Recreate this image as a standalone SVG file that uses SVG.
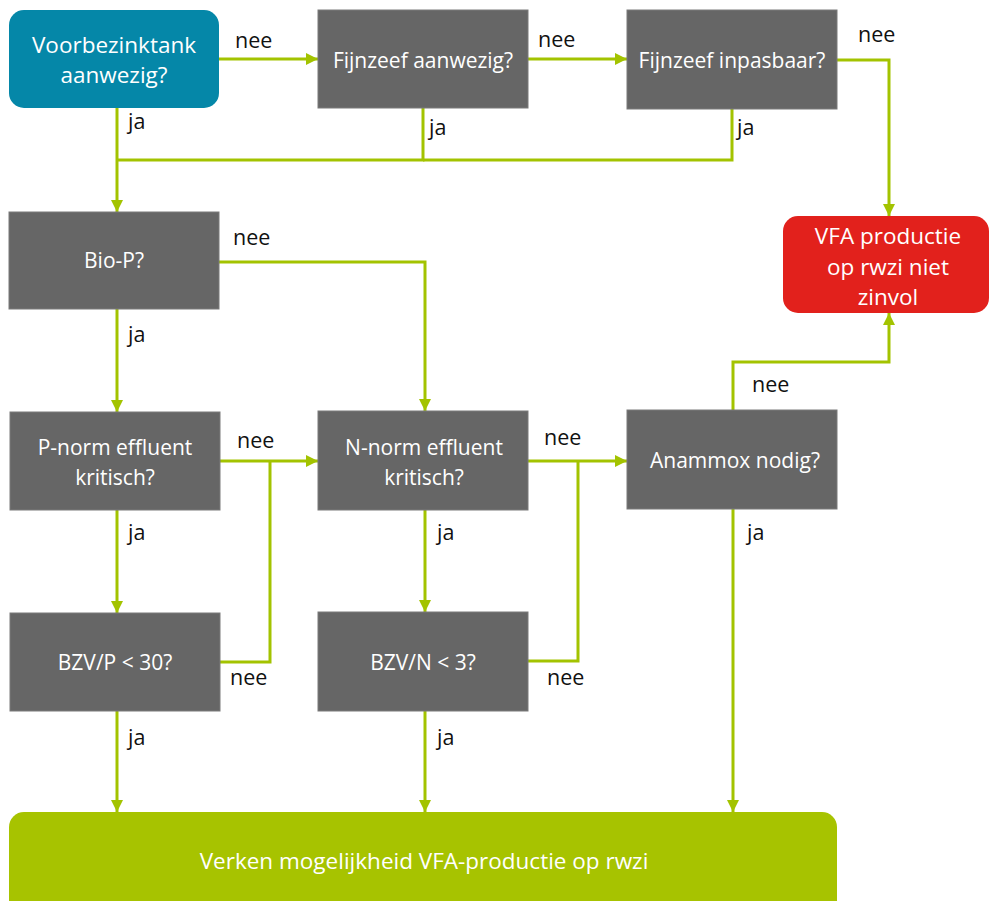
<svg xmlns="http://www.w3.org/2000/svg" width="990" height="901" viewBox="0 0 990 901">
  <style>
    .box { fill: #666666; stroke: #7a7a7a; stroke-width: 1; }
    .txt { font-family: "Open Sans", "Noto Sans", sans-serif; fill: #ffffff; text-anchor: middle; }
    .t20 { font-size: 21px; }
    .t22 { font-size: 22.5px; }
    .lbl { font-family: "Open Sans", "Noto Sans", sans-serif; font-size: 21.5px; fill: #111111; }
    .wire { fill: none; stroke: #a3c300; stroke-width: 3; stroke-linejoin: miter; }
  </style>
  <defs>
    <marker id="head" markerUnits="userSpaceOnUse" markerWidth="12" markerHeight="12" refX="12" refY="6" orient="auto">
      <path d="M0,0 L12,6 L0,12 z" fill="#a3c300"/>
    </marker>
  </defs>
  <rect width="990" height="901" fill="#ffffff"/>

  <!-- connectors -->
  <g id="connectors">
    <path class="wire" d="M219,59 H318" marker-end="url(#head)"/>
    <path class="wire" d="M528,59 H627" marker-end="url(#head)"/>
    <path class="wire" d="M837,60 H889 V216" marker-end="url(#head)"/>
    <path class="wire" d="M117,108 V212" marker-end="url(#head)"/>
    <path class="wire" d="M423,108 V160 H117"/>
    <path class="wire" d="M732,109 V160 H423"/>
    <path class="wire" d="M219,262 H425 V411" marker-end="url(#head)"/>
    <path class="wire" d="M117,309 V412" marker-end="url(#head)"/>
    <path class="wire" d="M220,461 H318" marker-end="url(#head)"/>
    <path class="wire" d="M220,662 H270 V461"/>
    <path class="wire" d="M117,510 V613" marker-end="url(#head)"/>
    <path class="wire" d="M117,711 V812" marker-end="url(#head)"/>
    <path class="wire" d="M528,461 H627" marker-end="url(#head)"/>
    <path class="wire" d="M528,661 H578 V461"/>
    <path class="wire" d="M425,510 V612" marker-end="url(#head)"/>
    <path class="wire" d="M425,711 V812" marker-end="url(#head)"/>
    <path class="wire" d="M733,410 V362 H889 V313" marker-end="url(#head)"/>
    <path class="wire" d="M733,509 V812" marker-end="url(#head)"/>

    <text class="lbl" x="235" y="48">nee</text>
    <text class="lbl" x="538" y="47">nee</text>
    <text class="lbl" x="858" y="42">nee</text>
    <text class="lbl" x="128" y="129">ja</text>
    <text class="lbl" x="429" y="135">ja</text>
    <text class="lbl" x="737" y="135">ja</text>
    <text class="lbl" x="233" y="245">nee</text>
    <text class="lbl" x="128" y="342">ja</text>
    <text class="lbl" x="237" y="448">nee</text>
    <text class="lbl" x="128" y="540">ja</text>
    <text class="lbl" x="230" y="685">nee</text>
    <text class="lbl" x="128" y="745">ja</text>
    <text class="lbl" x="544" y="445">nee</text>
    <text class="lbl" x="437" y="540">ja</text>
    <text class="lbl" x="547" y="685">nee</text>
    <text class="lbl" x="437" y="745">ja</text>
    <text class="lbl" x="752" y="392">nee</text>
    <text class="lbl" x="747" y="540">ja</text>
  </g>

  <!-- nodes -->
  <g id="voorbezinktank">
    <rect x="9" y="10" width="210" height="98" rx="15" fill="#0587a8"/>
    <text class="txt t22" x="114" y="53">Voorbezinktank</text>
    <text class="txt t22" x="114" y="83">aanwezig?</text>
  </g>
  <g id="fijnzeef-aanwezig">
    <rect class="box" x="318" y="10" width="210" height="98"/>
    <text class="txt t20" x="423" y="68">Fijnzeef aanwezig?</text>
  </g>
  <g id="fijnzeef-inpasbaar">
    <rect class="box" x="627" y="10" width="210" height="99"/>
    <text class="txt t20" x="732" y="68">Fijnzeef inpasbaar?</text>
  </g>
  <g id="niet-zinvol">
    <rect x="783" y="216" width="206" height="97" rx="15" fill="#e2211c"/>
    <text class="txt t22" x="888" y="244">VFA productie</text>
    <text class="txt t22" x="888" y="275">op rwzi niet</text>
    <text class="txt t22" x="888" y="305">zinvol</text>
  </g>
  <g id="bio-p">
    <rect class="box" x="9" y="212" width="210" height="97"/>
    <text class="txt t20" x="114" y="268">Bio-P?</text>
  </g>
  <g id="p-norm">
    <rect class="box" x="10" y="412" width="210" height="98"/>
    <text class="txt t20" x="115" y="455">P-norm effluent</text>
    <text class="txt t20" x="115" y="485">kritisch?</text>
  </g>
  <g id="bzv-p">
    <rect class="box" x="10" y="613" width="210" height="98"/>
    <text class="txt t20" x="115" y="670">BZV/P &lt; 30?</text>
  </g>
  <g id="n-norm">
    <rect class="box" x="318" y="411" width="210" height="99"/>
    <text class="txt t20" x="424" y="455">N-norm effluent</text>
    <text class="txt t20" x="424" y="485">kritisch?</text>
  </g>
  <g id="bzv-n">
    <rect class="box" x="318" y="612" width="210" height="99"/>
    <text class="txt t20" x="423" y="670">BZV/N &lt; 3?</text>
  </g>
  <g id="anammox">
    <rect class="box" x="627" y="410" width="210" height="99"/>
    <text class="txt t20" x="735" y="468">Anammox nodig?</text>
  </g>
  <g id="verken">
    <rect x="9" y="812" width="828" height="110" rx="15" fill="#a7c300"/>
    <text class="txt" style="font-size:22.5px" x="424" y="869">Verken mogelijkheid VFA-productie op rwzi</text>
  </g>
</svg>
